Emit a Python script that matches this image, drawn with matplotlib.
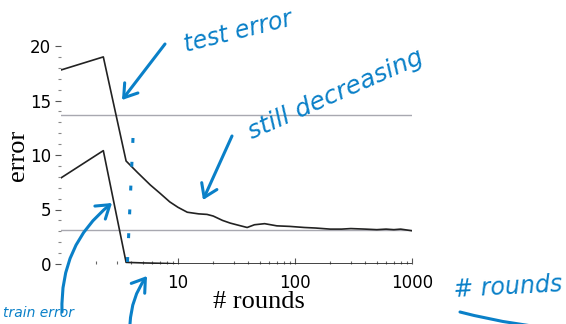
import numpy as np
import matplotlib
matplotlib.use('Agg')
from matplotlib import pyplot as plt
from matplotlib.patches import FancyArrowPatch
from matplotlib.ticker import FixedLocator, NullFormatter

# data
test_rounds = [1, 2.3, 3.6, 4.5, 5.8, 7.0, 8.5, 10, 12, 15, 17.7, 20, 24, 28, 33, 39,
               45, 55, 70, 90, 120, 150, 200, 250, 300, 400, 500, 600, 700, 800, 1000]
test_error = [17.8, 19.0, 9.45, 8.4, 7.25, 6.5, 5.7, 5.2, 4.75, 4.6, 4.55, 4.4, 4.0,
              3.75, 3.55, 3.35, 3.6, 3.7, 3.5, 3.45, 3.35, 3.3, 3.2, 3.2, 3.25, 3.2,
              3.15, 3.2, 3.15, 3.2, 3.05]
train_rounds = [1, 2.3, 3.6, 5, 8, 10, 1000]
train_error = [7.9, 10.4, 0.15, 0.1, 0.05, 0.0, 0.0]
ref_levels = [13.7, 3.1]

yticks = [0, 5, 10, 15, 20]
xticks = [10, 100, 1000]

BLUE = '#0a80c8'
W, H = 566, 324

fig = plt.figure(figsize=(5.66, 3.24), dpi=100)
ax = fig.add_axes([61 / W, 60 / H, 351 / W, 218 / H])

for lv in ref_levels:
    ax.axhline(lv, color='#a8a8b0', lw=1.0, zorder=1)
ax.plot(test_rounds, test_error, color='#222222', lw=1.2, zorder=3)
ax.plot(train_rounds, train_error, color='#222222', lw=1.2, zorder=3)

ax.set_xscale('log')
ax.set_xlim(1, 1000)
ax.set_ylim(0, 20)
for s in ax.spines.values():
    s.set_visible(False)

ax.set_xticks(xticks)
ax.set_xticklabels([str(t) for t in xticks])
ax.xaxis.set_minor_locator(FixedLocator([m * d for d in (1, 10, 100) for m in range(2, 10)]))
ax.xaxis.set_minor_formatter(NullFormatter())
ax.tick_params(axis='x', which='major', direction='in', length=4, width=0.8,
               labelsize=12, pad=7, color='#555555')
ax.tick_params(axis='x', which='minor', direction='in', length=2, width=0.8, color='#666666')

ax.set_yticks(yticks)
ax.yaxis.set_minor_locator(FixedLocator(range(0, 21)))
ax.tick_params(axis='y', which='major', direction='out', length=4, width=0.8,
               labelsize=12, pad=3, color='#555555')
ax.tick_params(axis='y', which='minor', direction='out', length=2, width=0.8, color='#888888')

ax.set_ylabel('error', family='Liberation Serif', fontsize=19)
ax.set_xlabel('# rounds', family='Liberation Serif', fontsize=19)
ax.yaxis.set_label_coords(-0.09, 0.5)
ax.xaxis.set_label_coords(0.565, -0.125)


def fp(x, y):
    # pixel position -> figure fraction
    return (x / W, 1 - y / H)


def arrow(p0, p1, rad=0.0, head=True):
    style = '->,head_length=6,head_width=4' if head else '-'
    a = FancyArrowPatch(fp(*p0), fp(*p1), transform=fig.transFigure,
                        arrowstyle=style, connectionstyle='arc3,rad=%s' % rad,
                        color=BLUE, lw=2.2, mutation_scale=1.5, shrinkA=0, shrinkB=0)
    fig.add_artist(a)


hand = dict(color=BLUE, family='DejaVu Sans', style='italic', fontsize=17,
            transform=fig.transFigure)

fig.text(*fp(238, 32), 'test error', rotation=14, ha='center', va='center', **hand)
arrow((165, 44), (122, 100))

fig.text(*fp(336, 94), 'still decreasing', rotation=24, ha='center', va='center',
         **dict(hand, fontsize=18))
arrow((232, 136), (203, 200))

# dotted vertical marker
fig.add_artist(plt.Line2D([133 / W, 127 / W], [1 - 138 / H, 1 - 272 / H],
                          transform=fig.transFigure, color=BLUE, lw=2.2,
                          linestyle=(0, (1.6, 6.2))))

arrow((62, 312), (112, 203), rad=-0.25)
arrow((130, 324), (147, 276), rad=-0.15)
fig.text(*fp(3, 313), 'train error', ha='left', va='center', **dict(hand, fontsize=10))

fig.text(*fp(508, 287), '# rounds', rotation=3, ha='center', va='center', **hand)
arrow((460, 312), (575, 330), rad=0.05, head=False)

fig.savefig('out.png', dpi=100)
